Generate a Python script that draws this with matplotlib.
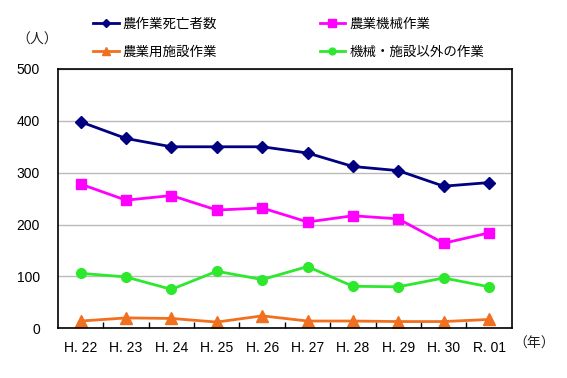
import matplotlib
matplotlib.use("Agg")
import matplotlib.pyplot as plt
from matplotlib.ticker import FixedLocator, NullFormatter

plt.rcParams["font.family"] = ["Noto Sans CJK JP", "DejaVu Sans"]

# 年次ラベル
years = ["H. 22", "H. 23", "H. 24", "H. 25", "H. 26",
         "H. 27", "H. 28", "H. 29", "H. 30", "R. 01"]

# 作業別死亡者数（人）
total = [398, 366, 350, 350, 350, 338, 312, 304, 274, 281]
machine = [278, 247, 256, 228, 232, 205, 217, 211, 164, 184]
facility = [14, 20, 19, 12, 24, 14, 14, 13, 13, 17]
other = [106, 99, 75, 110, 94, 119, 81, 80, 97, 80]

y_ticks = [0, 100, 200, 300, 400, 500]

NUM_FONT = ["Liberation Sans Narrow", "Liberation Sans", "DejaVu Sans"]

fig = plt.figure(figsize=(5.67, 3.78), dpi=100)
ax = fig.add_axes([0.1023, 0.1315, 0.8002, 0.686])

x = list(range(len(years)))
l_total, = ax.plot(x, total, color="#000080", linewidth=2.0, marker="D",
                   markersize=6.5, label="農作業死亡者数")
l_machine, = ax.plot(x, machine, color="#FF00FF", linewidth=2.0, marker="s",
                     markersize=7.5, label="農業機械作業")
l_facility, = ax.plot(x, facility, color="#F07020", linewidth=2.0, marker="^",
                      markersize=8, label="農業用施設作業")
l_other, = ax.plot(x, other, color="#2EE82E", linewidth=2.0, marker="o",
                   markersize=7, label="機械・施設以外の作業")

ax.set_xlim(-0.5, len(years) - 0.5)
ax.set_ylim(0, 500)
ax.set_yticks(y_ticks)
ax.set_yticklabels([str(v) for v in y_ticks], family=NUM_FONT, fontsize=10)
ax.yaxis.grid(True, color="#BBBBBB", linewidth=1.0)
ax.set_axisbelow(True)

# x軸: 目盛りはカテゴリ境界、ラベルは中央
ax.set_xticks(x)
ax.set_xticklabels(years, family=NUM_FONT, fontsize=10)
ax.tick_params(axis="x", which="major", length=0, pad=9)
ax.xaxis.set_minor_locator(FixedLocator([i + 0.5 for i in x[:-1]]))
ax.xaxis.set_minor_formatter(NullFormatter())
ax.tick_params(axis="x", which="minor", direction="in", length=4,
               width=1.0, color="black")
ax.tick_params(axis="y", length=0, pad=13)

for sp in ax.spines.values():
    sp.set_color("black")
    sp.set_linewidth(1.2)

fig.text(16 / 567, 1 - 40 / 378, "（人）", fontsize=10, va="center",
         ha="left", color="#222222")
fig.text(513 / 567, 1 - 344 / 378, "（年）", fontsize=10, va="center",
         ha="left", color="#222222")

fig.legend([l_total, l_facility, l_machine, l_other],
           ["農作業死亡者数", "農業用施設作業", "農業機械作業", "機械・施設以外の作業"],
           ncol=2, loc="upper left", bbox_to_anchor=(81 / 567, 1 - 5 / 378),
           frameon=False, fontsize=9.7, handlelength=1.9, handletextpad=0.3,
           columnspacing=7.6, labelspacing=1.0, markerscale=0.7)

fig.savefig("out.png", dpi=100)
